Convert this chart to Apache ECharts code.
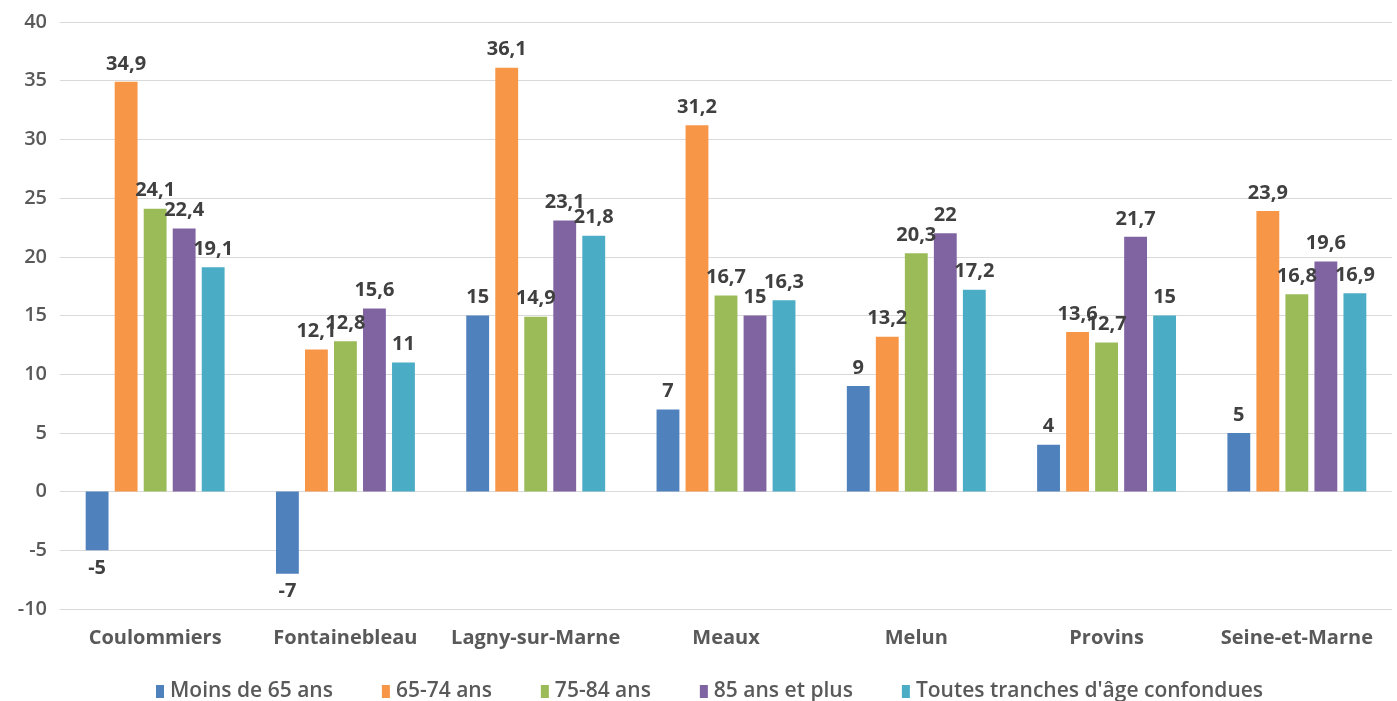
<!DOCTYPE html>
<html>
<head>
<meta charset="utf-8">
<script src="https://cdn.jsdelivr.net/npm/echarts@6/dist/echarts.min.js"></script>
<style>
  html, body { margin: 0; padding: 0; background: #fff; }
  #chart { width: 1397px; height: 701px; }
</style>
</head>
<body>
<div id="chart"></div>
<script>
// Arrondissements de Seine-et-Marne
const categories = ['Coulommiers', 'Fontainebleau', 'Lagny-sur-Marne', 'Meaux', 'Melun', 'Provins', 'Seine-et-Marne'];

// Évolution par tranche d'âge
const moins65 = [-5, -7, 15, 7, 9, 4, 5];
const age65_74 = [34.9, 12.1, 36.1, 31.2, 13.2, 13.6, 23.9];
const age75_84 = [24.1, 12.8, 14.9, 16.7, 20.3, 12.7, 16.8];
const age85plus = [22.4, 15.6, 23.1, 15, 22, 21.7, 19.6];
const toutes = [19.1, 11, 21.8, 16.3, 17.2, 15, 16.9];

const seriesNames = ['Moins de 65 ans', '65-74 ans', '75-84 ans', '85 ans et plus', "Toutes tranches d'âge confondues"];
const seriesData = [moins65, age65_74, age75_84, age85plus, toutes];
const colors = ['#4F81BD', '#F79646', '#9BBB59', '#8064A2', '#4BACC6'];

const fmt = v => String(v).replace('.', ',');

const chart = echarts.init(document.getElementById('chart'));
chart.setOption({
  animation: false,
  color: colors,
  grid: { left: 60, right: 5, top: 22, bottom: 92 },
  legend: {
    top: 681,
    left: 156,
    padding: 0,
    itemWidth: 8,
    itemHeight: 13,
    itemGap: 49,
    icon: 'rect',
    textStyle: { color: '#595959', fontSize: 21, fontWeight: 600, fontFamily: '"Open Sans", sans-serif', padding: [0, 0, 0, 1] },
    data: seriesNames
  },
  xAxis: {
    type: 'category',
    data: categories,
    position: 'bottom',
    axisLine: { show: false },
    axisTick: { show: false },
    axisLabel: {
      interval: 0,
      color: '#595959', fontSize: 20, fontWeight: 'bold',
      fontFamily: '"Open Sans", sans-serif', margin: 19
    }
  },
  yAxis: {
    type: 'value',
    min: -10,
    max: 40,
    interval: 5,
    axisLine: { show: false },
    axisTick: { show: false },
    splitLine: { lineStyle: { color: '#d9d9d9', width: 1 } },
    axisLabel: {
      color: '#595959', fontSize: 20, fontWeight: 600,
      fontFamily: '"Open Sans", sans-serif', margin: 13
    }
  },
  series: seriesNames.map((name, i) => ({
    name,
    type: 'bar',
    data: seriesData[i],
    barGap: '27%',
    barCategoryGap: '27%',
    label: {
      show: true,
      position: 'outside',
      distance: 8,
      color: '#404040',
      fontSize: 20,
      fontWeight: 'bold',
      fontFamily: '"Open Sans", sans-serif',
      formatter: p => fmt(p.value)
    }
  }))
});
</script>
</body>
</html>
